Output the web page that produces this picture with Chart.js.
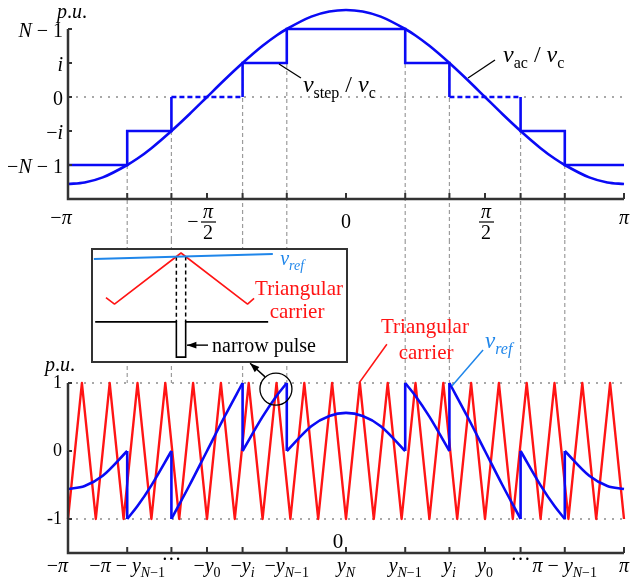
<!DOCTYPE html>
<html>
<head>
<meta charset="utf-8">
<script src="https://cdn.jsdelivr.net/npm/chart.js@4.4.1/dist/chart.umd.min.js"></script>
<style>
  html, body { margin: 0; padding: 0; background: #fff; }
  #wrap { position: relative; width: 630px; height: 580px; }
  canvas { position: absolute; }
  #top { left: 0; top: 0; }
  #bottom { left: 0; top: 240px; }
  #inset { left: 91px; top: 248px; }
</style>
</head>
<body>
<div id="wrap">
  <canvas id="top" width="630" height="240"></canvas>
  <canvas id="bottom" width="630" height="340"></canvas>
  <canvas id="inset" width="257" height="115"></canvas>
</div>
<script>
// angles are in units of pi, from -pi to pi
const edges = [-0.787, -0.628, -0.372, -0.213, 0.213, 0.372, 0.628, 0.787];
const tickPos = [-1, -0.787, -0.628, -0.5, -0.372, -0.213, 0, 0.213, 0.372, 0.5, 0.628, 0.787, 1];

// top plot: v_ac / v_c and v_step / v_c
const acX = [-1, -0.94, -0.875, -0.787, -0.75, -0.7, -0.628, -0.5625, -0.5, -0.4375, -0.372, -0.3, -0.25, -0.213, -0.125, -0.06, 0,
             0.06, 0.125, 0.213, 0.25, 0.3, 0.372, 0.4375, 0.5, 0.5625, 0.628, 0.7, 0.75, 0.787, 0.875, 0.94, 1];
const acY = [-2.56, -2.515, -2.365, -2.0, -1.81, -1.505, -1.0, -0.5, 0, 0.5, 1.0, 1.505, 1.81, 2.0, 2.365, 2.515, 2.56,
             2.515, 2.365, 2.0, 1.81, 1.505, 1.0, 0.5, 0, -0.5, -1.0, -1.505, -1.81, -2.0, -2.365, -2.515, -2.56];
const stepX = [-1, -0.787, -0.628, -0.372, -0.372, -0.213, 0.213, 0.372, 0.628, 0.628, 0.787, 1];
const stepY = [-2, -1, 0, 0, 1, 2, 1, 0, 0, -1, -2, -2];
const topYTicks = [-2, -1, 0, 1, 2];
const topYLabels = ['−N − 1', '−i', '0', 'i', 'N − 1'];
const topXTicks = [-1, -0.5, 0, 0.5, 1];
const topXLabels = ['−π', '−π/2', '0', 'π/2', 'π'];

// bottom plot: carrier and v_ref
const carrierX = [-1, -0.95, -0.9, -0.85, -0.8, -0.75, -0.7, -0.65, -0.6, -0.55, -0.5, -0.45, -0.4, -0.35, -0.3, -0.25, -0.2, -0.15, -0.1, -0.05, 0,
                  0.05, 0.1, 0.15, 0.2, 0.25, 0.3, 0.35, 0.4, 0.45, 0.5, 0.55, 0.6, 0.65, 0.7, 0.75, 0.8, 0.85, 0.9, 0.95, 1];
const carrierY = [-1, 1, -1, 1, -1, 1, -1, 1, -1, 1, -1, 1, -1, 1, -1, 1, -1, 1, -1, 1, -1,
                  1, -1, 1, -1, 1, -1, 1, -1, 1, -1, 1, -1, 1, -1, 1, -1, 1, -1, 1, -1];
const vrefSegX = [
  [-1, -0.94, -0.875, -0.787],
  [-0.787, -0.75, -0.7, -0.628],
  [-0.628, -0.5625, -0.5, -0.4375, -0.372],
  [-0.372, -0.3, -0.25, -0.213],
  [-0.213, -0.125, -0.06, 0, 0.06, 0.125, 0.213],
  [0.213, 0.25, 0.3, 0.372],
  [0.372, 0.4375, 0.5, 0.5625, 0.628],
  [0.628, 0.7, 0.75, 0.787],
  [0.787, 0.875, 0.94, 1]
];
const vrefSegY = [
  [-0.56, -0.515, -0.365, 0],
  [-1, -0.81, -0.505, 0],
  [-1, -0.5, 0, 0.5, 1],
  [0, 0.505, 0.81, 1],
  [0, 0.365, 0.515, 0.56, 0.515, 0.365, 0],
  [1, 0.81, 0.505, 0],
  [1, 0.5, 0, -0.5, -1],
  [0, -0.505, -0.81, -1],
  [0, -0.365, -0.515, -0.56]
];
const botYTicks = [-1, 0, 1];
const botYLabels = ['-1', '0', '1'];
const botXLabels = ['−π', '−π − y_{N−1}', '···', '−y_{0}', '−y_{i}', '−y_{N−1}', 'y_{N}',
                    'y_{N−1}', 'y_{i}', 'y_{0}', '···', 'π − y_{N−1}', 'π'];

// inset: one carrier period around the peak
const insetCarrierX = [-1.128, -1, 0, 1, 1.098];
const insetCarrierY = [-0.744, -1, 1, -1, -0.78];
const insetRefX = [-1.31, 1.38];
const insetRefY = [0.765, 0.96];
const insetPulseX = [-1.29, -0.07, -0.07, 0.07, 0.07, 1.31];
const insetPulseY = [-1.7, -1.7, -3.08, -3.08, -1.7, -1.7];
const insetCutX = [-0.07, 0.07];
const insetCutTop = [0.855, 0.865];

const BLUE = '#0a0af5';
const LIGHT_BLUE = '#1f86ea';
const RED = '#ff1414';
const AXIS = '#333';
const GUIDE = '#9c9c9c';
const SERIF = '"Liberation Serif", "Times New Roman", serif';

function pts(xs, ys) {
  return xs.map((x, i) => ({ x, y: ys[i] }));
}

function parseRich(str) {
  const runs = [];
  const push = (t, sub, upright) => {
    for (const ch of t) {
      const it = !upright && /[A-Za-zπ]/.test(ch);
      const last = runs[runs.length - 1];
      if (last && last.sub === sub && last.it === it) last.t += ch;
      else runs.push({ t: ch, sub, it });
    }
  };
  let i = 0;
  while (i < str.length) {
    if (str[i] === '_' && (str[i + 1] === '{' || str[i + 1] === '[')) {
      const close = str[i + 1] === '{' ? '}' : ']';
      const end = str.indexOf(close, i + 2);
      push(str.slice(i + 2, end), true, close === ']');
      i = end + 1;
    } else {
      push(str[i], false, false);
      i++;
    }
  }
  return runs;
}

// text with italic letters and subscripts, _{..} italic sub, _[..] upright sub
function drawRich(ctx, str, x, y, size, align, color) {
  const runs = parseRich(str);
  const font = r => `${r.it ? 'italic ' : ''}${r.sub ? Math.round(size * 0.68) : size}px ${SERIF}`;
  let w = 0;
  runs.forEach(r => { ctx.font = font(r); r.w = ctx.measureText(r.t).width; w += r.w; });
  let cx = align === 'center' ? x - w / 2 : align === 'right' ? x - w : x;
  ctx.save();
  ctx.fillStyle = color || '#000';
  ctx.textAlign = 'left';
  ctx.textBaseline = 'alphabetic';
  runs.forEach(r => {
    ctx.font = font(r);
    ctx.fillText(r.t, cx, r.sub ? y + size * 0.26 : y);
    cx += r.w;
  });
  ctx.restore();
}

function drawFrac(ctx, str, x, yBar, size) {
  const neg = str[0] === '−';
  const [num, den] = str.replace('−', '').split('/');
  ctx.save();
  ctx.fillStyle = '#000';
  ctx.textAlign = 'center';
  ctx.textBaseline = 'alphabetic';
  ctx.font = `italic ${size}px ${SERIF}`;
  ctx.fillText(num, x + 1, yBar - 4);
  ctx.font = `${size}px ${SERIF}`;
  ctx.fillText(den, x + 1, yBar + size * 0.85);
  ctx.strokeStyle = '#000';
  ctx.lineWidth = 1.2;
  ctx.beginPath(); ctx.moveTo(x - 6, yBar); ctx.lineTo(x + 9, yBar); ctx.stroke();
  if (neg) ctx.fillText('−', x - 14, yBar + size * 0.3);
  ctx.restore();
}

function line(ctx, x1, y1, x2, y2, color, width, dash) {
  ctx.save();
  ctx.strokeStyle = color;
  ctx.lineWidth = width;
  ctx.setLineDash(dash || []);
  ctx.beginPath(); ctx.moveTo(x1, y1); ctx.lineTo(x2, y2); ctx.stroke();
  ctx.restore();
}

function arrow(ctx, x1, y1, x2, y2) {
  line(ctx, x1, y1, x2, y2, '#000', 1.4);
  const ang = Math.atan2(y2 - y1, x2 - x1);
  ctx.save();
  ctx.fillStyle = '#000';
  ctx.beginPath();
  ctx.moveTo(x2, y2);
  ctx.lineTo(x2 - 10 * Math.cos(ang - 0.35), y2 - 10 * Math.sin(ang - 0.35));
  ctx.lineTo(x2 - 10 * Math.cos(ang + 0.35), y2 - 10 * Math.sin(ang + 0.35));
  ctx.closePath(); ctx.fill();
  ctx.restore();
}

function dotted(ctx, x1, x2, y) {
  line(ctx, x1, y, x2, y, '#a8a8a8', 2, [2, 6]);
}

// axis frame with inward ticks
function drawFrame(chart, yTicks) {
  const { ctx, chartArea: a, scales: { x, y } } = chart;
  ctx.save();
  ctx.strokeStyle = AXIS;
  ctx.lineWidth = 2.5;
  ctx.beginPath();
  ctx.moveTo(a.left, a.top); ctx.lineTo(a.left, a.bottom); ctx.lineTo(a.right, a.bottom);
  ctx.stroke();
  ctx.lineWidth = 2;
  tickPos.forEach(t => {
    const px = x.getPixelForValue(t);
    ctx.beginPath(); ctx.moveTo(px, a.bottom); ctx.lineTo(px, a.bottom - 6); ctx.stroke();
  });
  yTicks.forEach(t => {
    const py = y.getPixelForValue(t);
    ctx.beginPath(); ctx.moveTo(a.left, py); ctx.lineTo(a.left + 4, py); ctx.stroke();
  });
  ctx.restore();
}

function baseOptions(padding, ymin, ymax, xmin, xmax) {
  return {
    responsive: false,
    animation: false,
    events: [],
    layout: { padding },
    plugins: { legend: { display: false }, tooltip: { enabled: false } },
    scales: {
      x: { type: 'linear', min: xmin, max: xmax, display: false },
      y: { type: 'linear', min: ymin, max: ymax, display: false }
    }
  };
}

const topDecor = {
  id: 'topDecor',
  beforeDatasetsDraw(chart) {
    const { ctx, chartArea: a, scales: { x, y } } = chart;
    dotted(ctx, a.left, a.right, y.getPixelForValue(0));
    edges.forEach(e => {
      const px = x.getPixelForValue(e);
      const v = acY[acX.indexOf(e)];
      line(ctx, px, y.getPixelForValue(v), px, chart.height, GUIDE, 1.2, [4, 3]);
    });
  },
  afterDatasetsDraw(chart) {
    const { ctx, chartArea: a, scales: { x, y } } = chart;
    drawFrame(chart, topYTicks);
    topYTicks.forEach((t, i) => drawRich(ctx, topYLabels[i], a.left - 5, y.getPixelForValue(t) + 8, 20, 'right'));
    topXTicks.forEach((t, i) => {
      const px = x.getPixelForValue(t);
      const s = topXLabels[i];
      if (s.includes('/')) drawFrac(ctx, s, px, a.bottom + 23, 20);
      else if (s === '0') drawRich(ctx, s, px, a.bottom + 29, 20, 'center');
      else drawRich(ctx, s, t < 0 ? px - 7 : px, a.bottom + 25, 20, 'center');
    });
    drawRich(ctx, 'p.u.', x.getPixelForValue(-0.986), y.getPixelForValue(2.47) + 5, 20, 'center');
    // leader lines and curve names
    line(ctx, x.getPixelForValue(-0.241), y.getPixelForValue(0.97), x.getPixelForValue(-0.162), y.getPixelForValue(0.56), '#000', 1.3);
    drawRich(ctx, 'v_[step] / v_[c]', x.getPixelForValue(-0.155), y.getPixelForValue(0.15), 24, 'left');
    line(ctx, x.getPixelForValue(0.439), y.getPixelForValue(0.56), x.getPixelForValue(0.536), y.getPixelForValue(1.09), '#000', 1.3);
    drawRich(ctx, 'v_[ac] / v_[c]', x.getPixelForValue(0.565), y.getPixelForValue(1.03), 24, 'left');
  }
};

const bottomDecor = {
  id: 'bottomDecor',
  beforeDatasetsDraw(chart) {
    const { ctx, chartArea: a, scales: { x, y } } = chart;
    dotted(ctx, a.left, a.right, y.getPixelForValue(1));
    dotted(ctx, a.left, a.right, y.getPixelForValue(-1));
    edges.forEach(e => {
      const px = x.getPixelForValue(e);
      line(ctx, px, 0, px, a.top, GUIDE, 1.2, [4, 3]);
    });
  },
  afterDatasetsDraw(chart) {
    const { ctx, chartArea: a, scales: { x, y } } = chart;
    drawFrame(chart, botYTicks);
    ctx.save();
    ctx.font = `18px ${SERIF}`;
    ctx.fillStyle = '#000';
    ctx.textAlign = 'right';
    ctx.textBaseline = 'middle';
    botYTicks.forEach((t, i) => ctx.fillText(botYLabels[i], a.left - 6, y.getPixelForValue(t)));
    ctx.restore();
    tickPos.forEach((t, i) => {
      const px = x.getPixelForValue(t);
      const s = botXLabels[i];
      if (i === 0) drawRich(ctx, s, px, a.bottom + 19, 20, 'right');
      else if (s === '···') drawRich(ctx, s, px, a.bottom + 13, 20, 'center');
      else drawRich(ctx, s, px, a.bottom + 19, 20, 'center');
    });
    drawRich(ctx, '0', x.getPixelForValue(-0.029), y.getPixelForValue(-1.32) + 7, 21, 'center');
    drawRich(ctx, 'p.u.', x.getPixelForValue(-1.029), y.getPixelForValue(1.22) + 3, 20, 'center');
    // carrier label
    line(ctx, x.getPixelForValue(0.147), y.getPixelForValue(1.57), x.getPixelForValue(0.047), y.getPixelForValue(1.0), RED, 1.5);
    ctx.save();
    ctx.font = `21px ${SERIF}`;
    ctx.fillStyle = RED;
    ctx.textAlign = 'center';
    ctx.textBaseline = 'middle';
    ctx.fillText('Triangular', x.getPixelForValue(0.284), y.getPixelForValue(1.81));
    ctx.fillText('carrier', x.getPixelForValue(0.288), y.getPixelForValue(1.44));
    ctx.restore();
    // v_ref label
    line(ctx, x.getPixelForValue(0.493), y.getPixelForValue(1.485), x.getPixelForValue(0.381), y.getPixelForValue(0.956), LIGHT_BLUE, 1.5);
    drawRich(ctx, 'v_{ref}', x.getPixelForValue(0.5), y.getPixelForValue(1.51), 23, 'left', LIGHT_BLUE);
    // circled narrow pulse
    ctx.save();
    ctx.strokeStyle = '#000';
    ctx.lineWidth = 1.3;
    ctx.beginPath();
    ctx.arc(x.getPixelForValue(-0.252), y.getPixelForValue(0.91), 16, 0, Math.PI * 2);
    ctx.stroke();
    ctx.restore();
    arrow(ctx, x.getPixelForValue(-0.291), y.getPixelForValue(1.09), x.getPixelForValue(-0.345), y.getPixelForValue(1.29));
  }
};

const insetDecor = {
  id: 'insetDecor',
  beforeDraw(chart) {
    const { ctx } = chart;
    ctx.save();
    ctx.fillStyle = '#fff';
    ctx.fillRect(0, 0, chart.width, chart.height);
    ctx.restore();
  },
  afterDatasetsDraw(chart) {
    const { ctx, scales: { x, y } } = chart;
    ctx.save();
    ctx.strokeStyle = AXIS;
    ctx.lineWidth = 2;
    ctx.strokeRect(1, 1, chart.width - 2, chart.height - 2);
    ctx.restore();
    drawRich(ctx, 'v_{ref}', x.getPixelForValue(1.49), y.getPixelForValue(0.53), 20, 'left', LIGHT_BLUE);
    ctx.save();
    ctx.font = `21px ${SERIF}`;
    ctx.fillStyle = RED;
    ctx.textAlign = 'center';
    ctx.textBaseline = 'middle';
    ctx.fillText('Triangular', x.getPixelForValue(1.774), y.getPixelForValue(-0.41));
    ctx.fillText('carrier', x.getPixelForValue(1.744), y.getPixelForValue(-1.35));
    ctx.font = `20px ${SERIF}`;
    ctx.fillStyle = '#000';
    ctx.textAlign = 'left';
    ctx.fillText('narrow pulse', x.getPixelForValue(0.466), y.getPixelForValue(-2.69));
    ctx.restore();
    arrow(ctx, x.getPixelForValue(0.406), y.getPixelForValue(-2.61), x.getPixelForValue(0.09), y.getPixelForValue(-2.61));
  }
};

const vrefData = [];
const jumpData = [];
vrefSegX.forEach((xs, k) => {
  vrefData.push(...pts(xs, vrefSegY[k]));
  vrefData.push({ x: xs[xs.length - 1], y: null });
  if (k > 0) {
    const prev = vrefSegY[k - 1];
    jumpData.push({ x: xs[0], y: prev[prev.length - 1] }, { x: xs[0], y: vrefSegY[k][0] }, { x: xs[0], y: null });
  }
});

const cutData = [];
insetCutX.forEach((cx, i) => {
  cutData.push({ x: cx, y: insetCutTop[i] }, { x: cx, y: insetPulseY[0] }, { x: cx, y: null });
});

new Chart(document.getElementById('top'), {
  type: 'line',
  data: {
    datasets: [
      { data: pts(acX, acY), borderColor: BLUE, borderWidth: 2.6, pointRadius: 0, cubicInterpolationMode: 'monotone', clip: false },
      {
        data: pts(stepX, stepY), borderColor: BLUE, borderWidth: 2.6, pointRadius: 0, stepped: true, clip: false,
        segment: { borderDash: c => (c.p0.parsed.y === 0 && c.p1.parsed.y === 0) ? [5, 3] : undefined }
      }
    ]
  },
  options: baseOptions({ left: 68, right: 6, top: 29, bottom: 41 }, -3, 2, -1, 1),
  plugins: [topDecor]
});

new Chart(document.getElementById('bottom'), {
  type: 'line',
  data: {
    datasets: [
      { data: vrefData, borderColor: BLUE, borderWidth: 2.6, pointRadius: 0, cubicInterpolationMode: 'monotone', clip: false },
      { data: jumpData, borderColor: BLUE, borderWidth: 2.6, pointRadius: 0, tension: 0, clip: false },
      { data: pts(carrierX, carrierY), borderColor: RED, borderWidth: 2.4, borderJoinStyle: 'round', pointRadius: 0, tension: 0, clip: false }
    ]
  },
  options: baseOptions({ left: 68, right: 6, top: 143, bottom: 27 }, -1.5, 1, -1, 1),
  plugins: [bottomDecor]
});

new Chart(document.getElementById('inset'), {
  type: 'line',
  data: {
    datasets: [
      { data: pts(insetRefX, insetRefY), borderColor: LIGHT_BLUE, borderWidth: 2, pointRadius: 0, tension: 0 },
      { data: cutData, borderColor: '#000', borderWidth: 1.5, borderDash: [4, 3], pointRadius: 0, tension: 0 },
      { data: pts(insetCarrierX, insetCarrierY), borderColor: RED, borderWidth: 1.6, borderJoinStyle: 'round', pointRadius: 0, tension: 0 },
      { data: pts(insetPulseX, insetPulseY), borderColor: '#000', borderWidth: 1.6, pointRadius: 0, tension: 0 }
    ]
  },
  options: baseOptions(0, -3.31, 1.196, -1.353, 2.51),
  plugins: [insetDecor]
});
</script>
</body>
</html>
